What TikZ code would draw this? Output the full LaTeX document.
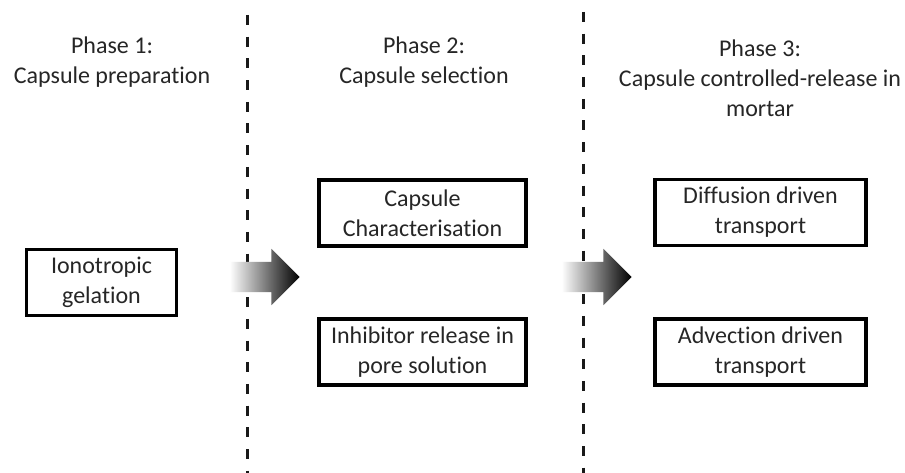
\documentclass[tikz,border=0pt]{standalone}
\usepackage{fontspec}
\setmainfont[Ligatures=NoCommon]{Carlito}
\usetikzlibrary{shapes.arrows}
\begin{document}
\begin{tikzpicture}[x=1pt,y=-1pt,
  txt/.style={font=\fontsize{24}{30}\selectfont, text=black!85, align=center, inner sep=0pt},
  stagebox/.style={txt, draw=black, line width=3.8pt, minimum height=66pt},
  dashline/.style={line width=3pt, dash pattern=on 10pt off 11.7pt, black!90},
  blockarrow/.style={single arrow, draw=none, minimum height=70pt, minimum width=56pt,
    inner xsep=0pt, inner ysep=15pt, single arrow head extend=13pt,
    left color=white, right color=black, shading angle=90}
]
\useasboundingbox (0,0) rectangle (905,473);
\fill[white] (0,0) rectangle (905,473);

% dashed phase separators
\coordinate (d1t) at (247,15);
\coordinate (d1b) at (247,473);
\coordinate (d2t) at (583,12);
\coordinate (d2b) at (583,473);
\draw[dashline] (d1t) -- (d1b);
\draw[dashline] (d2t) -- (d2b);

% headers
\node[txt] (h1) at (112,62) {Phase 1:\\Capsule preparation};
\node[txt] (h2) at (424,62) {Phase 2:\\Capsule selection};
\node[txt] (h3) at (760,78) {Phase 3:\\Capsule controlled-release in\\mortar};

% boxes
\node[stagebox, minimum width=150pt] (ion) at (101.5,282.5) {Ionotropic\\gelation};
\node[stagebox, minimum width=207pt] (char) at (422.5,213) {Capsule\\Characterisation};
\node[stagebox, minimum width=207pt] (inh) at (422.5,352) {Inhibitor release in\\pore solution};
\node[stagebox, minimum width=211pt] (diff) at (760.5,212.5) {Diffusion driven\\transport};
\node[stagebox, minimum width=211pt] (adv) at (760.5,352) {Advection driven\\transport};

% block arrows
\node[blockarrow] (arr1) at (257,277) {};
\node[blockarrow] (arr2) at (589,277) {};
\end{tikzpicture}
\end{document}
